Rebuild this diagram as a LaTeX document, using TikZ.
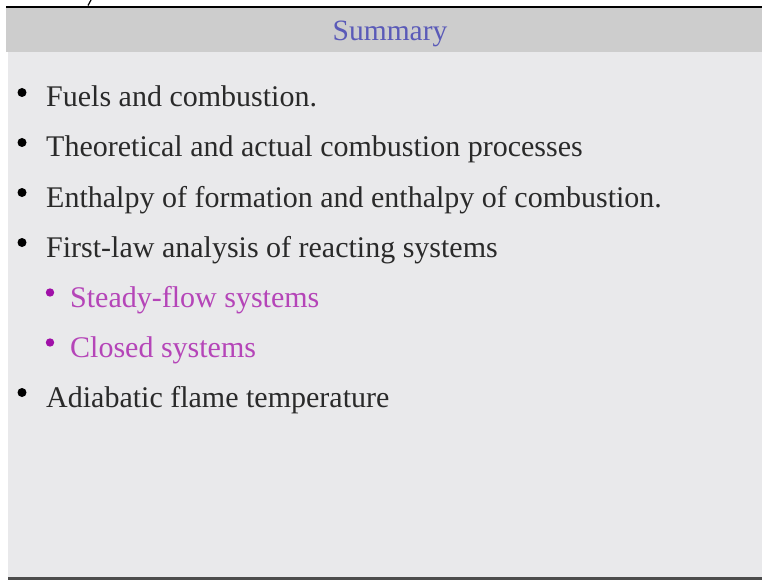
\documentclass[tikz,border=0pt]{standalone}
\usepackage{fontspec}
\setmainfont{Liberation Serif}
\definecolor{barbg}{HTML}{CDCDCD}
\definecolor{bodybg}{HTML}{E9E9EB}
\definecolor{titlec}{HTML}{5A5AB8}
\definecolor{textc}{HTML}{2A2A2A}
\definecolor{subc}{HTML}{B545B8}
\definecolor{subdot}{HTML}{A010A8}
\begin{document}
\begin{tikzpicture}[x=1pt,y=-1pt,
  mainitem/.style={anchor=base west,inner sep=0pt,text=textc,font=\fontsize{30}{32}\selectfont},
  subitem/.style={anchor=base west,inner sep=0pt,text=subc,font=\fontsize{30}{32}\selectfont},
  maindot/.style={fill=black,draw=none},
  subdotst/.style={fill=subdot,draw=none}]
\useasboundingbox (0,0) rectangle (762,580);
\fill[white] (0,0) rectangle (762,580);
% body and title bar
\fill[bodybg] (8,52) rectangle (762,578);
\fill[barbg] (6,8) rectangle (762,52);
\draw[black,line width=2pt] (6,7) -- (762,7);
\draw[black!70,line width=2.5pt] (8,578.5) -- (762,578.5);
\draw[black,line width=1.2pt] (91,0) -- (88,5.5);
\node[anchor=base,inner sep=0pt,text=titlec,font=\fontsize{29.5}{32}\selectfont] (title) at (390,41) {Summary};
% main items
\fill[maindot] (22,92.5) circle (4.5);
\node[mainitem] (i1) at (46,107) {Fuels and combustion.};
\fill[maindot] (22,142.5) circle (4.5);
\node[mainitem] (i2) at (46,157) {Theoretical and actual combustion processes};
\fill[maindot] (22,192.5) circle (4.5);
\node[mainitem] (i3) at (46,207) {Enthalpy of formation and enthalpy of combustion.};
\fill[maindot] (22,242.5) circle (4.5);
\node[mainitem] (i4) at (46,257) {First-law analysis of reacting systems};
\fill[subdotst] (50,292.5) circle (4.2);
\node[subitem] (s1) at (70,307) {Steady-flow systems};
\fill[subdotst] (50,342.5) circle (4.2);
\node[subitem] (s2) at (70,357) {Closed systems};
\fill[maindot] (22,392.5) circle (4.5);
\node[mainitem] (i5) at (46,407) {Adiabatic flame temperature};
\end{tikzpicture}
\end{document}
